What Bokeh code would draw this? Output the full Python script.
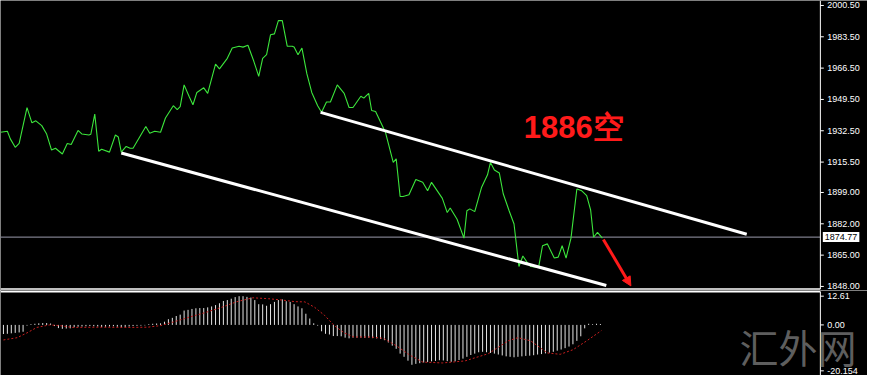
from bokeh.plotting import figure
from bokeh.models import Range1d, Label, Arrow, NormalHead
from bokeh.layouts import column
from bokeh.core.properties import value
from bokeh.embed import file_html
from bokeh.resources import INLINE

# ---------------- data (time in chart bar-units, prices) ----------------
price_t = [0, 7, 10, 15, 19, 27, 32, 36, 42, 47, 52, 56, 63, 68, 72, 79, 83, 90, 92, 96,
           100, 103, 111, 117, 120, 123, 128, 132, 135, 148, 152, 157, 163, 168, 176, 180,
           183, 187, 192, 196, 200, 207, 211, 219, 223, 231, 236, 243, 247, 252, 258, 263,
           267, 271, 275, 279, 283, 287, 292, 297, 299, 303, 307, 312, 317, 323, 327, 332,
           336, 343, 350, 355, 359, 367, 370, 375, 378, 382, 392, 400, 403, 407, 410, 416,
           423, 430, 435, 439, 450, 455, 458, 465, 472, 475, 478, 483, 490, 496, 499, 503,
           508, 512, 518, 523, 528, 532, 536, 540, 548, 552, 557, 564, 568, 572, 576, 581,
           587, 592, 597, 601, 604, 608, 613]
price = [1931.7, 1932.2, 1928.1, 1923.5, 1925.6, 1945.1, 1936.8, 1937.9, 1935.3, 1930.7,
         1922.0, 1923.0, 1919.9, 1925.6, 1925.0, 1932.7, 1930.7, 1930.2, 1930.6, 1941.5,
         1921.4, 1922.5, 1920.9, 1930.2, 1929.1, 1920.9, 1924.0, 1923.0, 1923.0, 1934.8,
         1931.2, 1932.2, 1931.7, 1939.4, 1946.1, 1944.0, 1945.6, 1957.4, 1951.2, 1946.6,
         1953.3, 1955.8, 1952.8, 1968.7, 1966.1, 1971.8, 1977.4, 1978.4, 1977.9, 1978.9,
         1970.2, 1962.0, 1971.8, 1973.8, 1984.6, 1985.1, 1992.3, 1992.3, 1978.4, 1978.4,
         1977.9, 1973.8, 1977.4, 1963.5, 1953.3, 1946.1, 1942.5, 1948.1, 1948.1, 1957.4,
         1952.8, 1945.1, 1945.1, 1951.2, 1950.2, 1952.8, 1943.5, 1943.0, 1931.7, 1915.3,
         1917.3, 1896.8, 1896.8, 1897.8, 1906.0, 1904.5, 1899.9, 1904.5, 1895.8, 1888.1,
         1890.6, 1884.5, 1874.2, 1889.1, 1890.1, 1888.6, 1901.9, 1908.6, 1915.3, 1911.2,
         1909.6, 1898.3, 1889.1, 1881.9, 1858.8, 1864.5, 1861.4, 1858.8, 1858.3, 1870.1,
         1871.1, 1863.4, 1863.9, 1870.1, 1863.4, 1874.2, 1900.9, 1899.9, 1897.3, 1889.6,
         1874.7, 1877.3, 1874.2]

# channel lines (start/end time, start/end price)
chan_t0 = [326, 123]
chan_t1 = [760, 617]
chan_p0 = [1942.5, 1920.4]
chan_p1 = [1876.3, 1848.5]

current_price = 1874.77
price_ticks = [2000.50, 1983.50, 1966.50, 1949.50, 1932.50, 1915.50, 1899.00, 1882.00,
               1865.00, 1848.00]
price_floor = 1846.6

arrow_t = [614, 642]
arrow_p = [1873.5, 1848.3]

note_text = "1886空"
note_t = 533
note_p = 1934.5

# MACD main (histogram) and signal
bar_step = 4
bar_first = 3
macd_hist = [-4.0, -3.9, -3.7, -3.5, -3.3, -3.0,
             -0.3, 0.3,
             0.5, 0.7, 0.8, 0.8, 0.6,
             -0.5, -1.4, -1.7, -1.6, -1.5, -1.0,
             -0.8, -0.7, -0.6, -0.5, -0.6, -0.7, -0.9, -0.8, -0.7, -0.6, -0.8, -1.0,
             -0.9, -0.7, -0.5, -0.4, -0.3, -0.2, 0.3, 0.5, 0.6,
             0.7, 1.4, 2.5, 3.1, 3.9, 4.5, 6.3, 6.6, 7.0, 7.3,
             7.4, 7.4, 7.7, 8.1, 8.7, 9.5, 10.5, 10.9, 11.5, 12.2,
             12.6, 12.6, 12.3, 12.0, 10.9, 9.1, 9.0, 8.4, 9.1, 10.1,
             10.9, 11.2, 10.4, 10.1, 9.1, 8.1, 7.3, 4.9, 2.8, 0.7,
             -0.3, -2.8, -3.9, -4.2, -4.9, -4.9, -5.0, -5.6, -5.9, -5.6,
             -5.6, -5.6, -5.7, -5.6, -5.8, -5.9, -6.2,
             -6.7, -7.7, -9.1, -10.5, -12.6, -14.0, -15.7, -17.5, -17.1, -16.8, -16.5,
             -16.3, -16.0, -15.8, -15.5, -15.6, -15.9, -16.2, -16.0, -15.4, -14.8, -14.0,
             -13.2, -12.6, -12.0, -11.8, -12.0,
             -12.3, -12.6, -13.0, -13.4, -13.8, -14.0, -14.2, -14.0, -13.8, -13.6, -13.5,
             -13.3, -13.0, -12.8, -12.5, -12.2, -11.8,
             -11.3, -10.8, -10.2, -9.5, -8.5, -7.0, -5.0, -1.5,
             0.5, 0.3, 0.5, 0.4]
sig_t = [3, 17, 27, 37, 50, 60, 73, 100, 133, 150, 163, 177, 193, 210, 227, 240, 257, 273,
         287, 300, 310, 320, 330, 340, 350, 360, 377, 390, 403, 417, 430, 450, 473, 497,
         517, 527, 540, 557, 570, 583, 597, 612]
sig_v = [-6.6, -5.6, -3.5, -1.1, 0.0, -0.3, -1.1, -1.0, -1.1, -1.0, -0.3, 1.4, 3.5, 5.6,
         8.0, 10.1, 11.9, 11.5, 10.9, 10.2, 10.1, 7.7, 4.2, -0.3, -3.5, -5.3, -5.3, -5.9,
         -9.1, -13.3, -16.3, -16.7, -15.8, -12.6, -7.0, -5.6, -7.0, -12.3, -12.9, -10.9,
         -7.0, -2.5]
macd_ticks = [12.61, 0.0, -20.154]
macd_tick_labels = ["12.61", "0.00", "-20.154"]
macd_ceiling = 14.6

watermark = "汇外网"

# ---------------- layout constants ----------------
W = 867
T_END = 883          # right edge of the chart window in time units
AXIS_T = 835         # price-scale line position in time units
TICK_LEN = 3.5
LABEL_GAP = 7
AX_FONT = "Liberation Sans"
AX_SIZE = "9px"


def base_fig(height, y_range):
    p = figure(width=W, height=height, x_range=Range1d(0, T_END), y_range=y_range,
               output_backend="svg", toolbar_location=None, x_axis_location=None,
               y_axis_location=None, min_border_left=0, min_border_right=0,
               min_border_top=0, min_border_bottom=0, background_fill_color="black",
               border_fill_color="black", outline_line_color=None)
    p.grid.visible = False
    return p


def price_scale(p, ticks, labels, y_lo, y_hi):
    # vertical scale line, tick marks and tick labels at the right-hand side
    p.segment(x0=[AXIS_T], y0=[y_lo], x1=[AXIS_T], y1=[y_hi], line_color="white",
              line_width=1)
    p.segment(x0=[AXIS_T] * len(ticks), y0=ticks, x1=[AXIS_T + TICK_LEN] * len(ticks),
              y1=ticks, line_color="white", line_width=1)
    p.text(x=[AXIS_T + LABEL_GAP] * len(ticks), y=ticks, text=labels,
           text_font=value(AX_FONT), text_font_size=AX_SIZE, text_color="white",
           text_baseline="middle", text_align="left")


# ---------------- price panel ----------------
top_range = Range1d(1845.8, 2003.2)
top = base_fig(290, top_range)

top.segment(x0=[0], y0=[current_price], x1=[AXIS_T], y1=[current_price],
            line_color="#9a9aac", line_width=1)
top.segment(x0=[0], y0=[price_floor], x1=[AXIS_T], y1=[price_floor],
            line_color="white", line_width=1.5)
price_scale(top, price_ticks, ["%.2f" % t for t in price_ticks], price_floor,
            top_range.end)

top.line(price_t, price, line_color="#3ce63c", line_width=1.1)
top.segment(x0=chan_t0, y0=chan_p0, x1=chan_t1, y1=chan_p1, line_color="white",
            line_width=3)
top.add_layout(Arrow(end=NormalHead(size=9, fill_color="#ff1a1a", line_color="#ff1a1a"),
                     x_start=arrow_t[0], y_start=arrow_p[0], x_end=arrow_t[1],
                     y_end=arrow_p[1], line_color="#ff1a1a", line_width=3))
top.text(x=[note_t], y=[note_p], text=[note_text], text_font=value("Liberation Sans"),
         text_font_size="31px", text_font_style="bold", text_color="#ff1a1a",
         text_baseline="alphabetic", text_align="left")
top.add_layout(Label(x=AXIS_T + 2.5, y=current_price, text="%.2f" % current_price,
                     text_font=AX_FONT, text_font_size=AX_SIZE, text_color="black",
                     text_baseline="middle", background_fill_color="white", padding=2))

# ---------------- MACD panel ----------------
bot_range = Range1d(-22.2, 15.1)
bot = base_fig(85, bot_range)
bot.segment(x0=[0], y0=[macd_ceiling], x1=[AXIS_T], y1=[macd_ceiling],
            line_color="white", line_width=1.5)
price_scale(bot, macd_ticks, macd_tick_labels, bot_range.start, macd_ceiling)

hist_t = [bar_first + bar_step * i for i in range(len(macd_hist))]
bot.segment(x0=hist_t, y0=[0] * len(hist_t), x1=hist_t, y1=macd_hist, line_color="#e4e4e4",
            line_width=1)
bot.line(sig_t, sig_v, line_color="#c81e1e", line_width=1, line_dash="2 2")
bot.add_layout(Label(x=739, x_units="screen", y=2, y_units="screen", text=watermark,
                     text_font="Noto Sans CJK SC", text_font_size="39px",
                     text_color="#5e5e5e", text_baseline="bottom"))

layout = column(top, bot, spacing=0)
html = file_html(layout, INLINE)
html = html.replace("<body>", '<body style="background-color:#000000;">', 1)
open("out.html", "w").write(html)
